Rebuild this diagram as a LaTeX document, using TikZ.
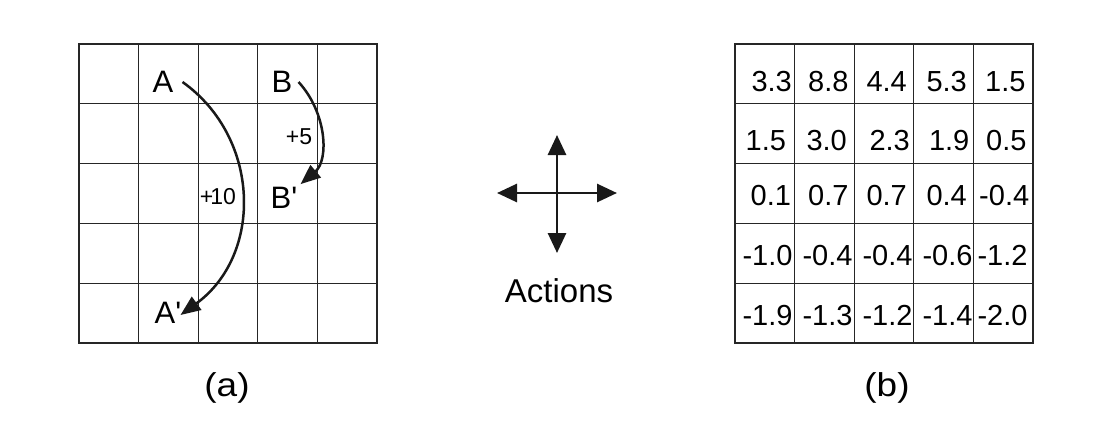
\documentclass[tikz,border=0pt]{standalone}
\usepackage{fontspec}
\setmainfont{Liberation Sans}
\usetikzlibrary{arrows.meta}
\begin{document}
\begin{tikzpicture}[x=1pt,y=-1pt,
  gridline/.style={line width=1.3pt, black!85},
  lbl/.style={inner sep=0pt, font=\fontsize{31}{34}\selectfont},
  num/.style={inner sep=0pt, anchor=base, font=\fontsize{29}{32}\selectfont},
  rew/.style={inner sep=0pt, font=\fontsize{23}{26}\selectfont},
  captext/.style={inner sep=0pt, font=\fontsize{33}{36}\selectfont},
  move/.style={line width=2.5pt, black!90, -{Triangle[length=20pt,width=16pt]}},
  act/.style={line width=2.8pt, black!90, {Triangle[length=20pt,width=18pt]}-{Triangle[length=20pt,width=18pt]}}]
\useasboundingbox (0,0) rectangle (1108,432);
% left grid
\foreach \i in {0,...,5} {
  \draw[gridline] ({79+59.6*\i},44) -- ({79+59.6*\i},343);
  \draw[gridline] (79,{44+59.8*\i}) -- (377,{44+59.8*\i});
}
\draw[gridline] (79,44) rectangle (377,343);
% right grid
\foreach \i in {0,...,5} {
  \draw[gridline] ({735+59.6*\i},44) -- ({735+59.6*\i},343);
  \draw[gridline] (735,{44+59.8*\i}) -- (1033,{44+59.8*\i});
}
\draw[gridline] (735,44) rectangle (1033,343);
% labels left
\node[lbl] (A) at (163,82) {A};
\node[lbl] (B) at (282,82) {B};
\node[lbl] (Bp) at (284,198) {B\textquotesingle};
\node[lbl] (Ap) at (168,313) {A\textquotesingle};
\node[rew] (r10) at (218,197) {+\kern-3pt10};
\node[rew] (r5) at (299,137) {+5};
\draw[move] ([xshift=9pt]A.east) .. controls (261,138) and (263,255) .. ([xshift=-1pt,yshift=-2pt]Ap.east);
\draw[move] ([xshift=6pt]B.east) .. controls (327,113) and (329,160) .. ([xshift=3pt,yshift=3pt]Bp.north east);
% actions
\coordinate (L) at (497,193);
\coordinate (R) at (617,193);
\coordinate (T) at (557,135);
\coordinate (D) at (557,253);
\draw[act] (L) -- (R);
\draw[act] (T) -- (D);
\node[captext] (actions) at (559,291) {Actions};
% captions
\node[captext] (ca) at (227,388) {\scalebox{1.12}[1]{(a)}};
\node[captext] (cb) at (887,388) {\scalebox{1.12}[1]{(b)}};
% values (baseline positions)
\foreach \t/\x/\y in {
  3.3/771.7/91, 8.8/828.3/91, 4.4/886.7/91, 5.3/946.7/91, 1.5/1005.3/91,
  1.5/765.8/150, 3.0/826.7/150, 2.3/889.7/150, 1.9/949.2/150, 0.5/1006.3/150,
  0.1/770.8/205, 0.7/828.3/205, 0.7/886.7/205, 0.4/946.7/205, -0.4/1004.2/205,
  -1.0/767.5/265, -0.4/827.5/265, -0.4/887.5/265, -0.6/947.5/265, -1.2/1002.5/265,
  -1.9/767.5/325, -1.3/827.5/325, -1.2/887.5/325, -1.4/947.5/325, -2.0/1002.5/325}
  \node[num] at (\x,\y) {\t};
\end{tikzpicture}
\end{document}
